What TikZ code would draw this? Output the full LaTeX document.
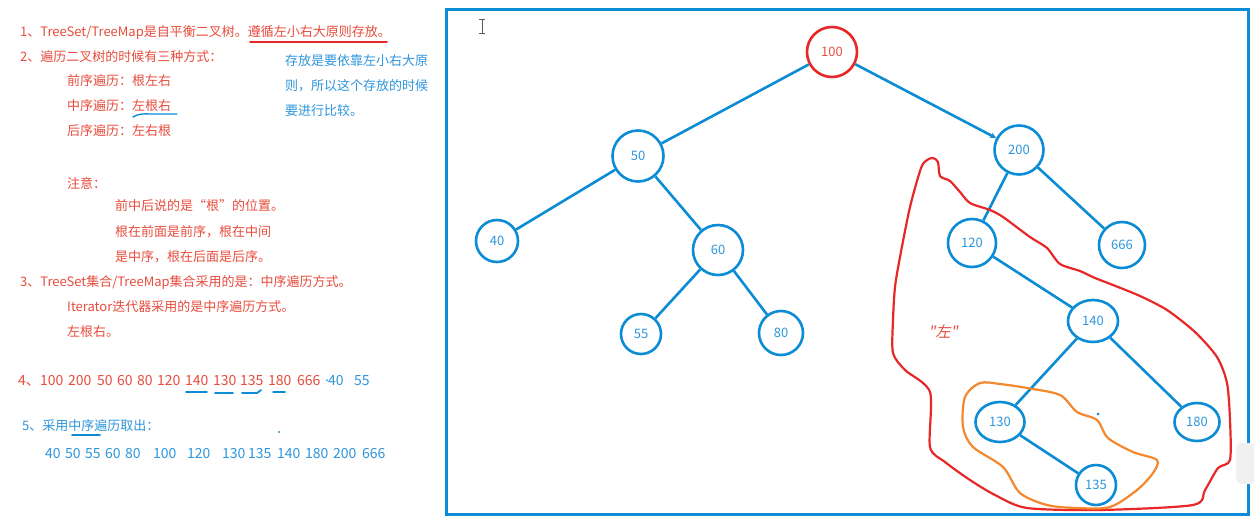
\documentclass[tikz,border=0pt]{standalone}
\usepackage{fontspec}
\setmainfont{Noto Sans CJK SC}
\newfontfamily\qfont[FakeSlant=0.2]{Noto Sans CJK SC}
\usetikzlibrary{shapes.geometric,arrows.meta}
\definecolor{tred}{RGB}{232,76,61}
\definecolor{cred}{RGB}{232,40,40}
\definecolor{cblue}{RGB}{12,140,212}
\definecolor{tblue}{RGB}{45,150,220}
\definecolor{corange}{RGB}{245,135,45}
\begin{document}
\begin{tikzpicture}[x=1pt,y=-1pt,
 txt/.style={anchor=west,inner sep=0pt,font=\fontsize{13}{15}\selectfont},
 rtxt/.style={txt,text=tred},
 btxt/.style={txt,text=tblue},
 rnum/.style={anchor=west,inner sep=0pt,text=tred,font=\fontsize{14}{16}\selectfont},
 bnum/.style={anchor=west,inner sep=0pt,text=tblue,font=\fontsize{14}{16}\selectfont},
 tnode/.style={circle,draw=cblue,line width=2.6pt,inner sep=0pt,text=tblue,font=\fontsize{13}{15}\selectfont},
 enode/.style={ellipse,draw=cblue,line width=2.6pt,inner sep=0pt,text=tblue,font=\fontsize{13}{15}\selectfont},
 link/.style={draw=cblue,line width=2.6pt},
 uline/.style={line width=1.8pt,line cap=round}]
\useasboundingbox (0,0) rectangle (1254,523);
\fill[white] (0,0) rectangle (1254,523);

% ---------- left text ----------
\node[rtxt] (t1) at (20,32) {1、TreeSet/TreeMap是自平衡二叉树。遵循左小右大原则存放。};
\draw[cred,uline] (250,42) -- (387,42);
\node[rtxt] (t2) at (20,57) {2、遍历二叉树的时候有三种方式：};
\node[rtxt] (t3) at (67,81) {前序遍历：根左右};
\node[rtxt] (t4) at (67,106) {中序遍历：左根右};
\draw[cblue,line width=1.4pt,line cap=round] (133,117) .. controls (140,113) and (145,114) .. (150,114) -- (177,114);
\node[rtxt] (t5) at (67,131) {后序遍历：左右根};
\node[rtxt] (t6) at (67,183) {注意：};
\node[rtxt] (t7) at (115,206) {前中后说的是“根”的位置。};
\node[rtxt] (t8) at (115,232) {根在前面是前序，根在中间};
\node[rtxt] (t9) at (115,257) {是中序，根在后面是后序。};
\node[rtxt] (t10) at (20,282) {3、TreeSet集合/TreeMap集合采用的是：中序遍历方式。};
\node[rtxt] (t11) at (67,307) {Iterator迭代器采用的是中序遍历方式。};
\node[rtxt] (t12) at (67,332) {左根右。};

\node[btxt] (b1) at (285,61) {存放是要依靠左小右大原};
\node[btxt] (b2) at (285,86) {则，所以这个存放的时候};
\node[btxt] (b3) at (285,111) {要进行比较。};

% line 4
\node[rnum] (l4h) at (18,381) {4、};
\foreach \v/\x in {100/40,200/68,50/97,60/117,80/137,120/157,140/185,130/213,135/240,180/268,666/297}
  \node[rnum] (l4n\v) at (\x,381) {\v};
\node[bnum] (l4d) at (325,381) {.};
\node[bnum] (l4a) at (328,381) {40};
\node[bnum] (l4b) at (354,381) {55};
\draw[cblue,uline] (186,392) -- (207,392);
\draw[cblue,uline] (215,393) -- (233,393);
\draw[cblue,uline] (242,393) -- (257,393) -- (261,390);
\draw[cblue,uline] (273,392) -- (285,392);

% line 5
\node[btxt] (l5) at (22,426) {5、采用中序遍历取出：};
\draw[cblue,uline] (72,435) -- (100,435);
\fill[tblue] (279,432) circle (1.2);
\foreach \v/\x in {40/45,50/65,55/85,60/105,80/125,100/153,120/187,130/222,135/248,140/277,180/305,200/333,666/362}
  \node[bnum] (l6n\v) at (\x,454) {\v};

% ---------- frame ----------
\draw[cblue,line width=3pt] (446,9) rectangle (1248,514);
% text cursor
\draw[gray!70!black,line width=0.9pt] (482,19) -- (482,33) (479,19) -- (485,19) (479,33) -- (485,33);
% side widget
\fill[gray!12] (1236,443) [rounded corners=5pt] rectangle (1256,484);

% ---------- tree ----------
\node[tnode,draw=cred,text=tred,minimum size=50pt] (n100) at (832,52) {100};
\node[tnode,minimum size=51pt] (n50) at (638,156) {50};
\node[tnode,minimum size=42pt] (n40) at (497,241) {40};
\node[tnode,minimum size=50pt] (n60) at (718,250) {60};
\node[tnode,minimum size=40pt] (n55) at (641,334) {55};
\node[tnode,minimum size=44pt] (n80) at (781,333) {80};
\node[tnode,minimum size=49pt] (n200) at (1019,150) {200};
\node[tnode,minimum size=48pt] (n120) at (972,243) {120};
\node[tnode,minimum size=46pt] (n666) at (1122,245) {666};
\node[enode,minimum width=50pt,minimum height=42pt] (n140) at (1093,321) {140};
\node[enode,minimum width=49pt,minimum height=40pt] (n130) at (1000,422) {130};
\node[enode,minimum width=45pt,minimum height=38pt] (n180) at (1197,422) {180};
\node[enode,minimum width=40pt,minimum height=40pt] (n135) at (1096,485) {135};

\path[link] (n100) -- (n50);
\path[link,-{Stealth[length=6pt,width=6pt]}] (n100) -- (n200);
\path[link] (n50) -- (n40);
\path[link] (n50) -- (n60);
\path[link] (n60) -- (n55);
\path[link] (n60) -- (n80);
\path[link] (n200) -- (n120);
\path[link] (n200) -- (n666);
\path[link] (n120) -- (n140);
\path[link] (n140) -- (n130);
\path[link] (n140) -- (n180);
\path[link] (n130) -- (n135);
\fill[cblue] (1098,414) circle (1.5);

% red outline
\draw[cred,line width=2.2pt,line join=round] plot[smooth cycle,tension=0.45] coordinates {
(933,158) (938,162) (940,176) (950,181) (960,192) (970,203) (990,210) (1003,217) (1030,237)
(1047,248) (1060,264) (1080,271) (1095,278) (1113,285) (1140,296) (1167,310) (1195,332) (1217,357)
(1227,383) (1230,420) (1230,460) (1218,468) (1205,490) (1193,505) (1100,510) (1027,508)
(995,495) (970,480) (945,462) (930,447) (930,392) (905,370) (893,353) (893,320) (895,287)
(900,257) (910,207) (921,168) (927,160)};
% orange outline
\draw[corange,line width=2.2pt,line join=round] plot[smooth cycle,tension=0.5] coordinates {
(980,383) (1000,384) (1027,388) (1060,395) (1077,412) (1097,420) (1108,438) (1133,452)
(1157,460) (1153,473) (1137,490) (1110,507) (1077,508) (1047,505) (1020,493) (1003,467)
(973,447) (963,427) (965,397)};
\node[text=tred,inner sep=0pt,font=\qfont\fontsize{15}{17}\selectfont] (lab) at (943,332) {"左"};
\end{tikzpicture}
\end{document}
